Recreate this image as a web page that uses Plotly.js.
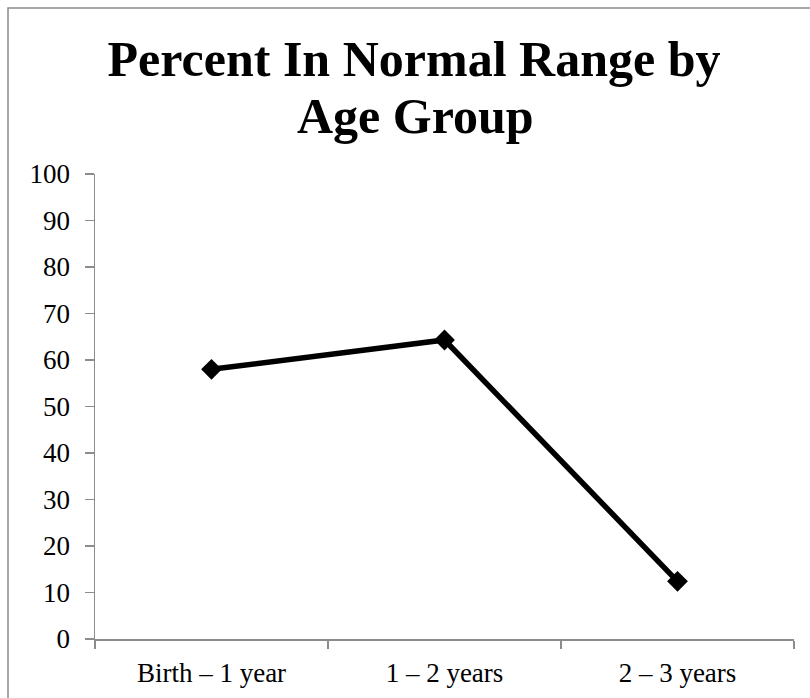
<!DOCTYPE html>
<html>
<head>
<meta charset="utf-8">
<script src="https://cdn.plot.ly/plotly-3.0.1.min.js"></script>
<style>
html,body{margin:0;padding:0;background:#fff;}
#chart{width:810px;height:698px;}
</style>
</head>
<body>
<div id="chart"></div>
<script>
var categories = ["Birth \u2013 1 year", "1 \u2013 2 years", "2 \u2013 3 years"];
var percentValues = [58, 64.3, 12.4];
var yTickValues = [0, 10, 20, 30, 40, 50, 60, 70, 80, 90, 100];
var titleLines = ["Percent In Normal Range by", "Age Group"];

var W = 810, H = 698;
var ml = 95, mr = 16, mt = 174, mb = 59;
var pw = W - ml - mr, ph = H - mt - mb;
function px(x){ return (x - ml) / pw; }
function py(y){ return (H - mb - y) / ph; }

var trace = {
  x: categories,
  y: percentValues,
  type: 'scatter',
  mode: 'lines+markers',
  line: {color: '#000000', width: 5.5},
  marker: {symbol: 'diamond', size: 16, color: '#000000'},
  cliponaxis: false,
  hoverinfo: 'skip'
};

var serif = '"Liberation Serif", "DejaVu Serif", serif';

var layout = {
  width: W, height: H,
  margin: {l: ml, r: mr, t: mt, b: mb, pad: 0},
  paper_bgcolor: '#ffffff',
  plot_bgcolor: '#ffffff',
  showlegend: false,
  title: {
    text: '<b>' + titleLines[0] + '</b>',
    font: {family: serif, size: 50, color: '#000000'},
    x: 414 / W, xanchor: 'center',
    y: 1 - 76 / H, yanchor: 'bottom'
  },
  annotations: [{
    text: '<b>' + titleLines[1] + '</b>',
    xref: 'paper', yref: 'paper',
    x: px(415), xanchor: 'center',
    y: py(146), yanchor: 'bottom',
    showarrow: false,
    font: {family: serif, size: 50, color: '#000000'}
  }],
  xaxis: {
    type: 'category',
    range: [-0.5, 2.5],
    tickson: 'boundaries',
    ticks: 'outside', ticklen: 8, tickwidth: 1.5, tickcolor: '#8c8c8c',
    ticklabelstandoff: 9,
    showline: true, linecolor: '#8c8c8c', linewidth: 1.5,
    showgrid: false, zeroline: false,
    tickfont: {family: serif, size: 27, color: '#000000'},
    fixedrange: true
  },
  yaxis: {
    range: [0, 100],
    tickmode: 'array', tickvals: yTickValues,
    ticktext: yTickValues.map(String),
    ticks: 'outside', ticklen: 9, tickwidth: 1.5, tickcolor: '#8c8c8c',
    ticklabelstandoff: 9,
    showline: true, linecolor: '#8c8c8c', linewidth: 1.5,
    showgrid: false, zeroline: false,
    tickfont: {family: serif, size: 27, color: '#000000'},
    fixedrange: true
  },
  shapes: [{
    type: 'rect', xref: 'paper', yref: 'paper',
    x0: px(8), x1: px(830), y0: py(720), y1: py(8),
    line: {color: '#8c8c8c', width: 1.5},
    fillcolor: 'rgba(0,0,0,0)', layer: 'below'
  }]
};

Plotly.newPlot('chart', [trace], layout, {displayModeBar: false, staticPlot: true});
</script>
</body>
</html>
